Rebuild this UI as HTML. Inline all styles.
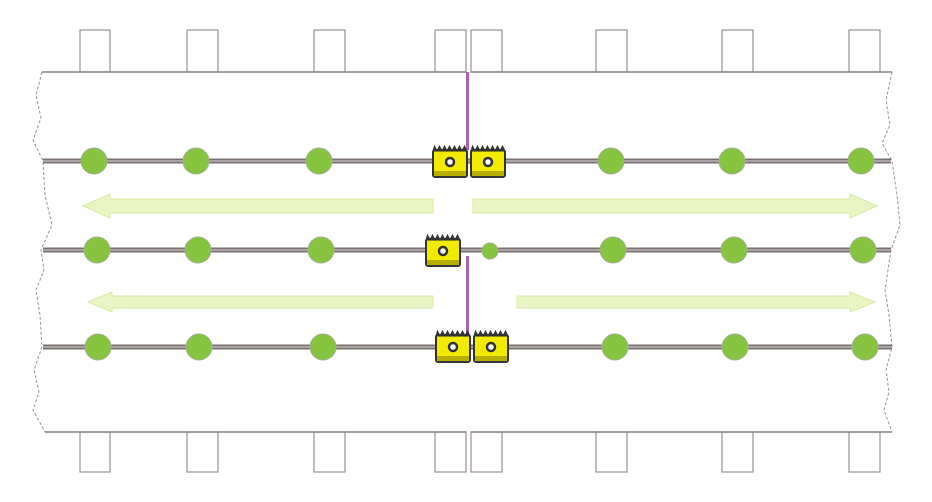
<!DOCTYPE html>
<html><head><meta charset="utf-8"><style>
html,body{margin:0;padding:0;background:#fff;width:932px;height:502px;overflow:hidden}
</style></head><body>
<svg width="932" height="502" viewBox="0 0 932 502" xmlns="http://www.w3.org/2000/svg">
<defs>
<g id="box">
  <rect x="0" y="4" width="34" height="27" rx="2" fill="#f2ea00" stroke="#333" stroke-width="2"/>
  <rect x="1" y="25" width="32" height="5" fill="#b8b000"/>
  <path d="M0 5 L1.5 0 L4 5 L6.5 0 L9 5 L11.5 0 L14 5 L16.5 0 L19 5 L21.5 0 L24 5 L26.5 0 L29 5 L31.5 0 L34 5 Z" fill="#333" stroke="#333" stroke-width="1"/>
  <circle cx="17" cy="16" r="4" fill="#fff" stroke="#333" stroke-width="2.5"/>
</g>
</defs>
<g fill="none" stroke="#9a9090" stroke-width="1.2">
  <rect x="80" y="30" width="30" height="42"/><rect x="187" y="30" width="31" height="42"/>
  <rect x="314" y="30" width="31" height="42"/><rect x="435" y="30" width="31" height="42"/>
  <rect x="471" y="30" width="31" height="42"/><rect x="596" y="30" width="31" height="42"/>
  <rect x="722" y="30" width="31" height="42"/><rect x="849" y="30" width="31" height="42"/>
  <rect x="80" y="432" width="30" height="40"/><rect x="187" y="432" width="31" height="40"/>
  <rect x="314" y="432" width="31" height="40"/><rect x="435" y="432" width="31" height="40"/>
  <rect x="471" y="432" width="31" height="40"/><rect x="596" y="432" width="31" height="40"/>
  <rect x="722" y="432" width="31" height="40"/><rect x="849" y="432" width="31" height="40"/>
</g>
<g stroke="#8a8080" stroke-width="1.5">
  <line x1="42" y1="72" x2="466" y2="72"/><line x1="471" y1="72" x2="892" y2="72"/>
  <line x1="45" y1="432" x2="466" y2="432"/><line x1="471" y1="432" x2="892" y2="432"/>
</g>
<g fill="none" stroke="#9a9090" stroke-width="1" stroke-dasharray="3,2">
  <path d="M42 72 L36 95 L41 118 L33 140 L43 161 L45 195 L52 225 L41 250 L44 270 L36 290 L40 315 L42 347 L34 370 L39 392 L33 410 L45 432"/>
  <path d="M892 72 L886 100 L890 125 L882 143 L892 161 L897 195 L900 225 L891 250 L888 270 L885 290 L889 315 L892 347 L886 370 L889 392 L884 410 L892 432"/>
</g>
<g stroke="#b060b0" stroke-width="3">
  <line x1="467.5" y1="72" x2="467.5" y2="150"/>
  <line x1="467.5" y1="256" x2="467.5" y2="335"/>
</g>
<g stroke="#7a7070" stroke-width="5">
  <line x1="43" y1="161" x2="891" y2="161"/>
  <line x1="43" y1="250" x2="891" y2="250"/>
  <line x1="43" y1="347" x2="892" y2="347"/>
</g>
<g stroke="#bdb5b5" stroke-width="1.5">
  <line x1="43" y1="161" x2="891" y2="161"/>
  <line x1="43" y1="250" x2="891" y2="250"/>
  <line x1="43" y1="347" x2="892" y2="347"/>
</g>
<g fill="#eaf4c4" stroke="#d6eaa2" stroke-width="1">
  <path d="M433 199 L110 199 L110 194 L83 206 L110 218 L110 213 L433 213 Z"/>
  <path d="M473 199 L850 199 L850 194 L877 206 L850 218 L850 213 L473 213 Z"/>
  <path d="M433 296 L112 296 L112 292 L88 302 L112 312 L112 308 L433 308 Z"/>
  <path d="M517 296 L850 296 L850 292 L875 302 L850 312 L850 308 L517 308 Z"/>
</g>
<g fill="#86c440" stroke="#a0b090" stroke-width="1">
  <circle cx="94" cy="161" r="13"/><circle cx="196" cy="161" r="13"/><circle cx="319" cy="161" r="13"/>
  <circle cx="611" cy="161" r="13"/><circle cx="732" cy="161" r="13"/><circle cx="861" cy="161" r="13"/>
  <circle cx="97" cy="250" r="13"/><circle cx="198" cy="250" r="13"/><circle cx="321" cy="250" r="13"/>
  <circle cx="490" cy="251" r="8"/>
  <circle cx="613" cy="250" r="13"/><circle cx="734" cy="250" r="13"/><circle cx="863" cy="250" r="13"/>
  <circle cx="98" cy="347" r="13"/><circle cx="199" cy="347" r="13"/><circle cx="323" cy="347" r="13"/>
  <circle cx="615" cy="347" r="13"/><circle cx="735" cy="347" r="13"/><circle cx="865" cy="347" r="13"/>
</g>
<use href="#box" x="433" y="146"/>
<use href="#box" x="471" y="146"/>
<use href="#box" x="426" y="235"/>
<use href="#box" x="436" y="331"/>
<use href="#box" x="474" y="331"/>
</svg>
</body></html>
